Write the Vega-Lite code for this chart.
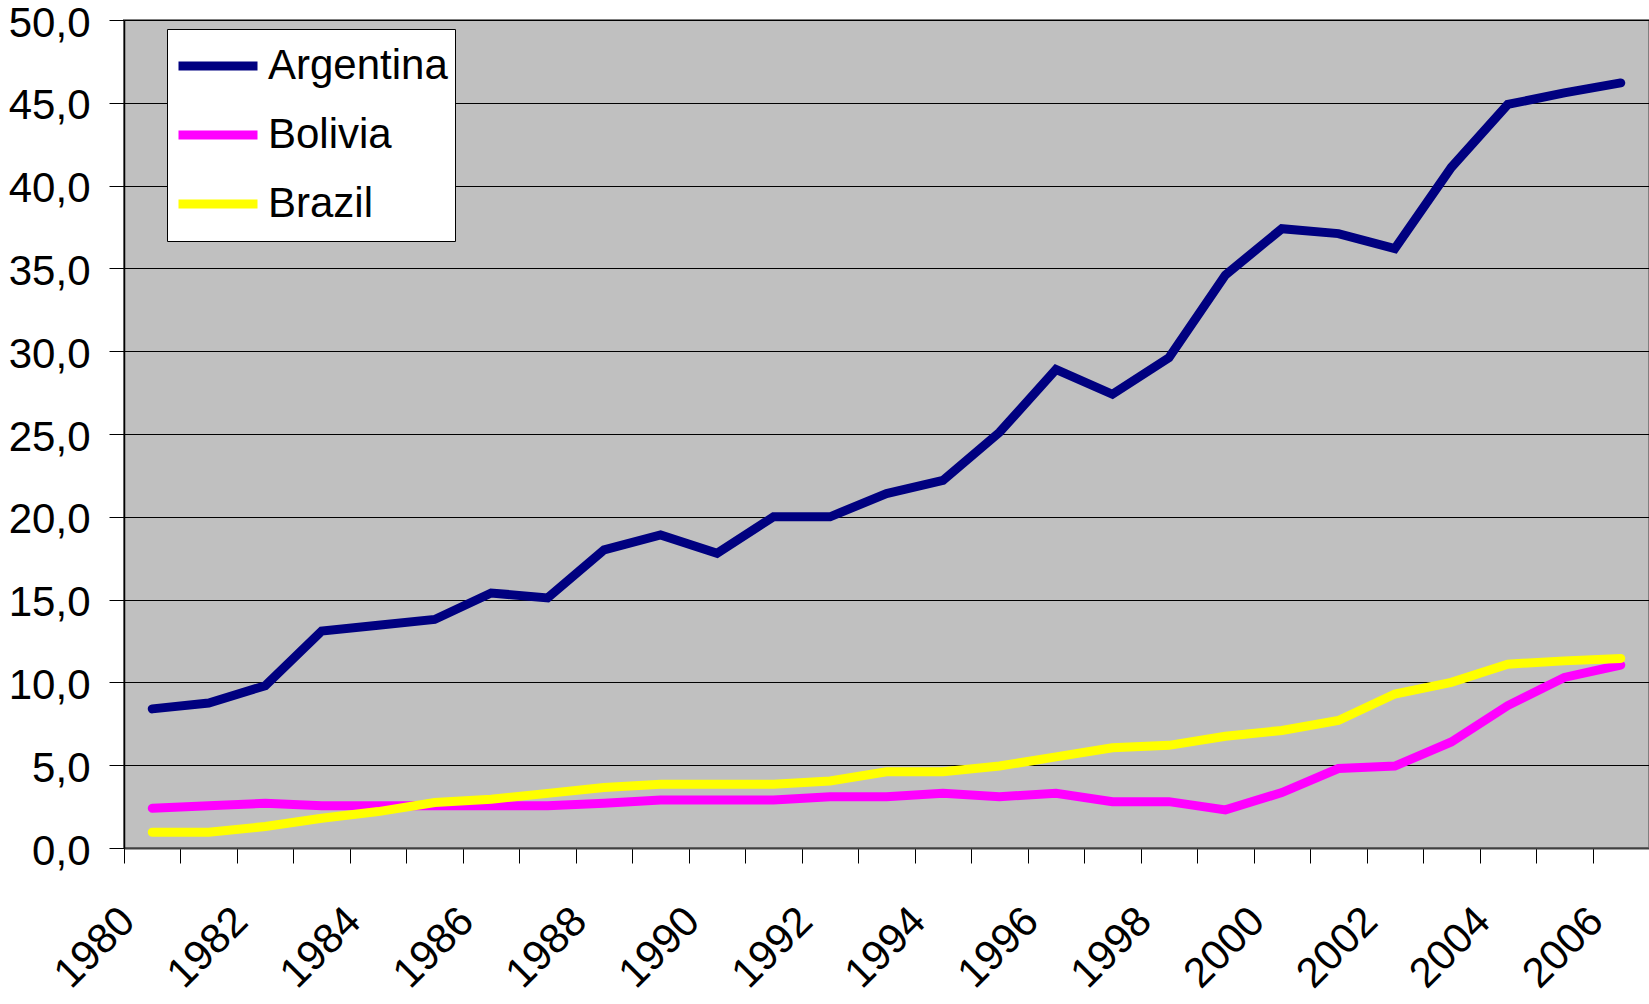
{
  "$schema": "https://vega.github.io/schema/vega-lite/v6.json",
  "autosize": {"type": "none"},
  "padding": {"left": 124, "top": 20, "right": 0, "bottom": 156},
  "width": 1525,
  "height": 828,
  "background": "white",
  "config": {
    "font": "Liberation Sans",
    "view": {"fill": "#C0C0C0", "stroke": "#808080", "strokeWidth": 2},
    "axis": {"labelFont": "Liberation Sans", "labelColor": "black", "labelFontSize": 42, "tickColor": "black", "domainColor": "black", "gridColor": "black", "gridWidth": 1, "gridOpacity": 1, "tickSize": 15, "title": null}
  },
  "data": {"values": [
    {"year": 1980, "country": "Argentina", "value": 8.4},
    {"year": 1981, "country": "Argentina", "value": 8.75},
    {"year": 1982, "country": "Argentina", "value": 9.8},
    {"year": 1983, "country": "Argentina", "value": 13.1},
    {"year": 1984, "country": "Argentina", "value": 13.45},
    {"year": 1985, "country": "Argentina", "value": 13.8},
    {"year": 1986, "country": "Argentina", "value": 15.4},
    {"year": 1987, "country": "Argentina", "value": 15.1},
    {"year": 1988, "country": "Argentina", "value": 18.0},
    {"year": 1989, "country": "Argentina", "value": 18.9},
    {"year": 1990, "country": "Argentina", "value": 17.8},
    {"year": 1991, "country": "Argentina", "value": 20.0},
    {"year": 1992, "country": "Argentina", "value": 20.0},
    {"year": 1993, "country": "Argentina", "value": 21.4},
    {"year": 1994, "country": "Argentina", "value": 22.2},
    {"year": 1995, "country": "Argentina", "value": 25.1},
    {"year": 1996, "country": "Argentina", "value": 28.9},
    {"year": 1997, "country": "Argentina", "value": 27.4},
    {"year": 1998, "country": "Argentina", "value": 29.6},
    {"year": 1999, "country": "Argentina", "value": 34.6},
    {"year": 2000, "country": "Argentina", "value": 37.4},
    {"year": 2001, "country": "Argentina", "value": 37.1},
    {"year": 2002, "country": "Argentina", "value": 36.2},
    {"year": 2003, "country": "Argentina", "value": 41.1},
    {"year": 2004, "country": "Argentina", "value": 44.9},
    {"year": 2005, "country": "Argentina", "value": 45.6},
    {"year": 2006, "country": "Argentina", "value": 46.2},
    {"year": 1980, "country": "Bolivia", "value": 2.4},
    {"year": 1981, "country": "Bolivia", "value": 2.55},
    {"year": 1982, "country": "Bolivia", "value": 2.7},
    {"year": 1983, "country": "Bolivia", "value": 2.55},
    {"year": 1984, "country": "Bolivia", "value": 2.55},
    {"year": 1985, "country": "Bolivia", "value": 2.55},
    {"year": 1986, "country": "Bolivia", "value": 2.55},
    {"year": 1987, "country": "Bolivia", "value": 2.55},
    {"year": 1988, "country": "Bolivia", "value": 2.7},
    {"year": 1989, "country": "Bolivia", "value": 2.9},
    {"year": 1990, "country": "Bolivia", "value": 2.9},
    {"year": 1991, "country": "Bolivia", "value": 2.9},
    {"year": 1992, "country": "Bolivia", "value": 3.1},
    {"year": 1993, "country": "Bolivia", "value": 3.1},
    {"year": 1994, "country": "Bolivia", "value": 3.3},
    {"year": 1995, "country": "Bolivia", "value": 3.1},
    {"year": 1996, "country": "Bolivia", "value": 3.3},
    {"year": 1997, "country": "Bolivia", "value": 2.8},
    {"year": 1998, "country": "Bolivia", "value": 2.8},
    {"year": 1999, "country": "Bolivia", "value": 2.3},
    {"year": 2000, "country": "Bolivia", "value": 3.35},
    {"year": 2001, "country": "Bolivia", "value": 4.8},
    {"year": 2002, "country": "Bolivia", "value": 4.95},
    {"year": 2003, "country": "Bolivia", "value": 6.4},
    {"year": 2004, "country": "Bolivia", "value": 8.6},
    {"year": 2005, "country": "Bolivia", "value": 10.3},
    {"year": 2006, "country": "Bolivia", "value": 11.05},
    {"year": 1980, "country": "Brazil", "value": 0.95},
    {"year": 1981, "country": "Brazil", "value": 0.95},
    {"year": 1982, "country": "Brazil", "value": 1.3},
    {"year": 1983, "country": "Brazil", "value": 1.8},
    {"year": 1984, "country": "Brazil", "value": 2.2},
    {"year": 1985, "country": "Brazil", "value": 2.75},
    {"year": 1986, "country": "Brazil", "value": 2.95},
    {"year": 1987, "country": "Brazil", "value": 3.3},
    {"year": 1988, "country": "Brazil", "value": 3.65},
    {"year": 1989, "country": "Brazil", "value": 3.85},
    {"year": 1990, "country": "Brazil", "value": 3.85},
    {"year": 1991, "country": "Brazil", "value": 3.85},
    {"year": 1992, "country": "Brazil", "value": 4.05},
    {"year": 1993, "country": "Brazil", "value": 4.6},
    {"year": 1994, "country": "Brazil", "value": 4.6},
    {"year": 1995, "country": "Brazil", "value": 4.95},
    {"year": 1996, "country": "Brazil", "value": 5.5},
    {"year": 1997, "country": "Brazil", "value": 6.05},
    {"year": 1998, "country": "Brazil", "value": 6.2},
    {"year": 1999, "country": "Brazil", "value": 6.75},
    {"year": 2000, "country": "Brazil", "value": 7.1},
    {"year": 2001, "country": "Brazil", "value": 7.7},
    {"year": 2002, "country": "Brazil", "value": 9.3},
    {"year": 2003, "country": "Brazil", "value": 10.0},
    {"year": 2004, "country": "Brazil", "value": 11.1},
    {"year": 2005, "country": "Brazil", "value": 11.3},
    {"year": 2006, "country": "Brazil", "value": 11.45}
  ]},
  "mark": {"type": "line", "strokeWidth": 9, "strokeCap": "round", "strokeJoin": "miter"},
  "encoding": {
    "x": {
      "field": "year", "type": "ordinal",
      "scale": {"type": "band", "paddingInner": 0, "paddingOuter": 0},
      "axis": {"labelAngle": -45, "labelOffset": -39, "labelPadding": 37, "tickBand": "extent", "grid": false, "domainWidth": 2, "domainColor": "#404040",
               "labelExpr": "datum.value % 2 == 0 ? datum.label : ''", "labelOverlap": false}
    },
    "y": {
      "field": "value", "type": "quantitative",
      "scale": {"domain": [0, 50], "nice": false, "zero": true},
      "axis": {"values": [0, 5, 10, 15, 20, 25, 30, 35, 40, 45, 50], "labelPadding": 19, "labelOffset": 3, "grid": true, "domainWidth": 1.5,
               "labelExpr": "replace(format(datum.value, '.1f'), '.', ',')"}
    },
    "color": {
      "field": "country", "type": "nominal",
      "scale": {"domain": ["Argentina", "Bolivia", "Brazil"], "range": ["#000080", "#FF00FF", "#FFFF00"]},
      "legend": {
        "title": null, "orient": "none", "legendX": 43, "legendY": 9,
        "fillColor": "white", "strokeColor": "black", "padding": 7,
        "labelFont": "Liberation Sans", "labelFontSize": 42, "labelColor": "black", "labelLimit": 400,
        "symbolType": "stroke", "symbolStrokeWidth": 9, "symbolSize": 6241, "labelOffset": 6,
        "clipHeight": 60, "rowPadding": 9
      }
    }
  }
}
